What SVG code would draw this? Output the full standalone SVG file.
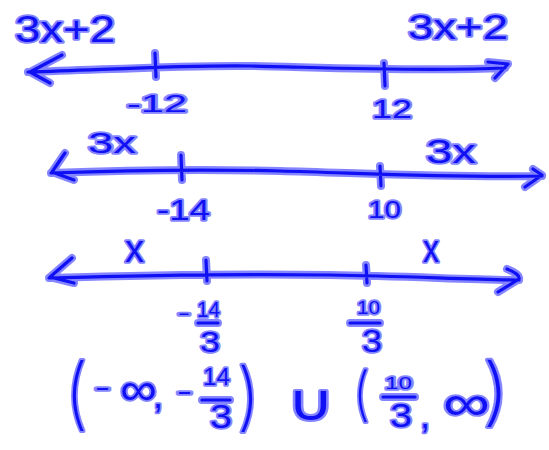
<svg xmlns="http://www.w3.org/2000/svg" xmlns:xlink="http://www.w3.org/1999/xlink" width="549" height="450" viewBox="0 0 549 450">
<style>
.halo{fill:none;stroke:#8585ff;stroke-width:8;stroke-linecap:round;stroke-linejoin:round}
.core{fill:none;stroke:#1010f5;stroke-width:3.2;stroke-linecap:round;stroke-linejoin:round}
.t{font-family:"Liberation Sans","DejaVu Sans",sans-serif;fill:#1010f5;stroke:#8585ff;stroke-width:3.5;paint-order:stroke;stroke-linejoin:round}
.p{font-family:Inter,"Open Sans","Noto Sans",sans-serif;font-weight:200;fill:#1010f5;stroke:#8585ff;stroke-width:4;paint-order:stroke;stroke-linejoin:round}
</style>
<defs>
<path id="l1" d="M28,72 C120,69 190,65 250,66 S420,72 505,68 M62,55 L30,72 L50,83 M488,62 L508,64 L495,78 M155,53 L156,77 M384,63 L385,86"/>
<path id="l2" d="M51,173 C130,170 200,169 280,171 S450,178 542,176 M65,153 L52,172 L74,180 M533,169 L542,175 L525,187 M181,155 L182,180 M380,166 L381,186"/>
<path id="l3" d="M49,278 C150,275 250,274 330,275 S470,280 519,280 M72,258 L50,277 L74,283 M507,269 C515,272 520,276 519,279 L498,292 M206,260 L207,281 M366,265 L367,283"/>
<path id="bars" d="M198,323 L218,323 M350,323 L380,323 M202,400 L230,400 M383,397 L415,397"/>
</defs>
<rect width="549" height="450" fill="#ffffff"/>
<g id="connectors">
<use xlink:href="#l1" class="halo"/><use xlink:href="#l1" class="core"/>
<use xlink:href="#l2" class="halo"/><use xlink:href="#l2" class="core"/>
<use xlink:href="#l3" class="halo"/><use xlink:href="#l3" class="core"/>
<use xlink:href="#bars" class="halo"/><use xlink:href="#bars" class="core"/>
</g>
<g id="line1-labels">
<text class="t" x="15" y="42" font-size="36" textLength="100" lengthAdjust="spacingAndGlyphs">3x+2</text>
<text class="t" x="408" y="39" font-size="35" textLength="100" lengthAdjust="spacingAndGlyphs">3x+2</text>
<text class="t" x="127" y="112" font-size="24" textLength="60" lengthAdjust="spacingAndGlyphs">-12</text>
<text class="t" x="372" y="118" font-size="26" textLength="40" lengthAdjust="spacingAndGlyphs">12</text>
</g>
<g id="line2-labels">
<text class="t" x="88" y="153" font-size="30" textLength="48" lengthAdjust="spacingAndGlyphs">3x</text>
<text class="t" x="426" y="163" font-size="33" textLength="50" lengthAdjust="spacingAndGlyphs">3x</text>
<text class="t" x="157" y="220" font-size="30" textLength="53" lengthAdjust="spacingAndGlyphs">-14</text>
<text class="t" x="368" y="218" font-size="24" textLength="33" lengthAdjust="spacingAndGlyphs">10</text>
</g>
<g id="line3-labels">
<text class="t" x="125" y="262" font-size="38" textLength="19" lengthAdjust="spacingAndGlyphs">x</text>
<text class="t" x="423" y="262" font-size="38" textLength="16" lengthAdjust="spacingAndGlyphs">x</text>
<text class="t" x="178" y="320" font-size="20" textLength="12" lengthAdjust="spacingAndGlyphs">-</text>
<text class="t" x="197" y="317" font-size="22" textLength="23" lengthAdjust="spacingAndGlyphs">14</text>
<text class="t" x="200" y="352" font-size="30" textLength="20" lengthAdjust="spacingAndGlyphs">3</text>
<text class="t" x="357" y="314" font-size="18" textLength="23" lengthAdjust="spacingAndGlyphs">10</text>
<text class="t" x="362" y="352" font-size="32" textLength="20" lengthAdjust="spacingAndGlyphs">3</text>
</g>
<g id="answer">
<text class="p" x="65" y="420" font-size="78" textLength="23" lengthAdjust="spacingAndGlyphs">(</text>
<text class="t" x="95" y="395" font-size="24" textLength="15" lengthAdjust="spacingAndGlyphs">-</text>
<text class="t" x="120" y="405" font-size="46" textLength="37" lengthAdjust="spacingAndGlyphs">∞</text>
<text class="t" x="153" y="408" font-size="36">,</text>
<text class="t" x="177" y="399" font-size="24" textLength="15" lengthAdjust="spacingAndGlyphs">-</text>
<text class="t" x="203" y="385" font-size="24" textLength="27" lengthAdjust="spacingAndGlyphs">14</text>
<text class="t" x="210" y="428" font-size="33" textLength="22" lengthAdjust="spacingAndGlyphs">3</text>
<text class="p" x="237" y="422" font-size="74" textLength="23" lengthAdjust="spacingAndGlyphs">)</text>
<text class="p" x="287" y="420" font-size="50" textLength="48" lengthAdjust="spacingAndGlyphs">∪</text>
<text class="p" x="353" y="414" font-size="58" textLength="17" lengthAdjust="spacingAndGlyphs">(</text>
<text class="t" x="385" y="389" font-size="16" textLength="27" lengthAdjust="spacingAndGlyphs">10</text>
<text class="t" x="390" y="427" font-size="34" textLength="22" lengthAdjust="spacingAndGlyphs">3</text>
<text class="t" x="420" y="428" font-size="36">,</text>
<text class="t" x="443" y="420" font-size="50" textLength="47" lengthAdjust="spacingAndGlyphs">∞</text>
<text class="p" x="482" y="417" font-size="74" textLength="28" lengthAdjust="spacingAndGlyphs">)</text>
</g>
</svg>
